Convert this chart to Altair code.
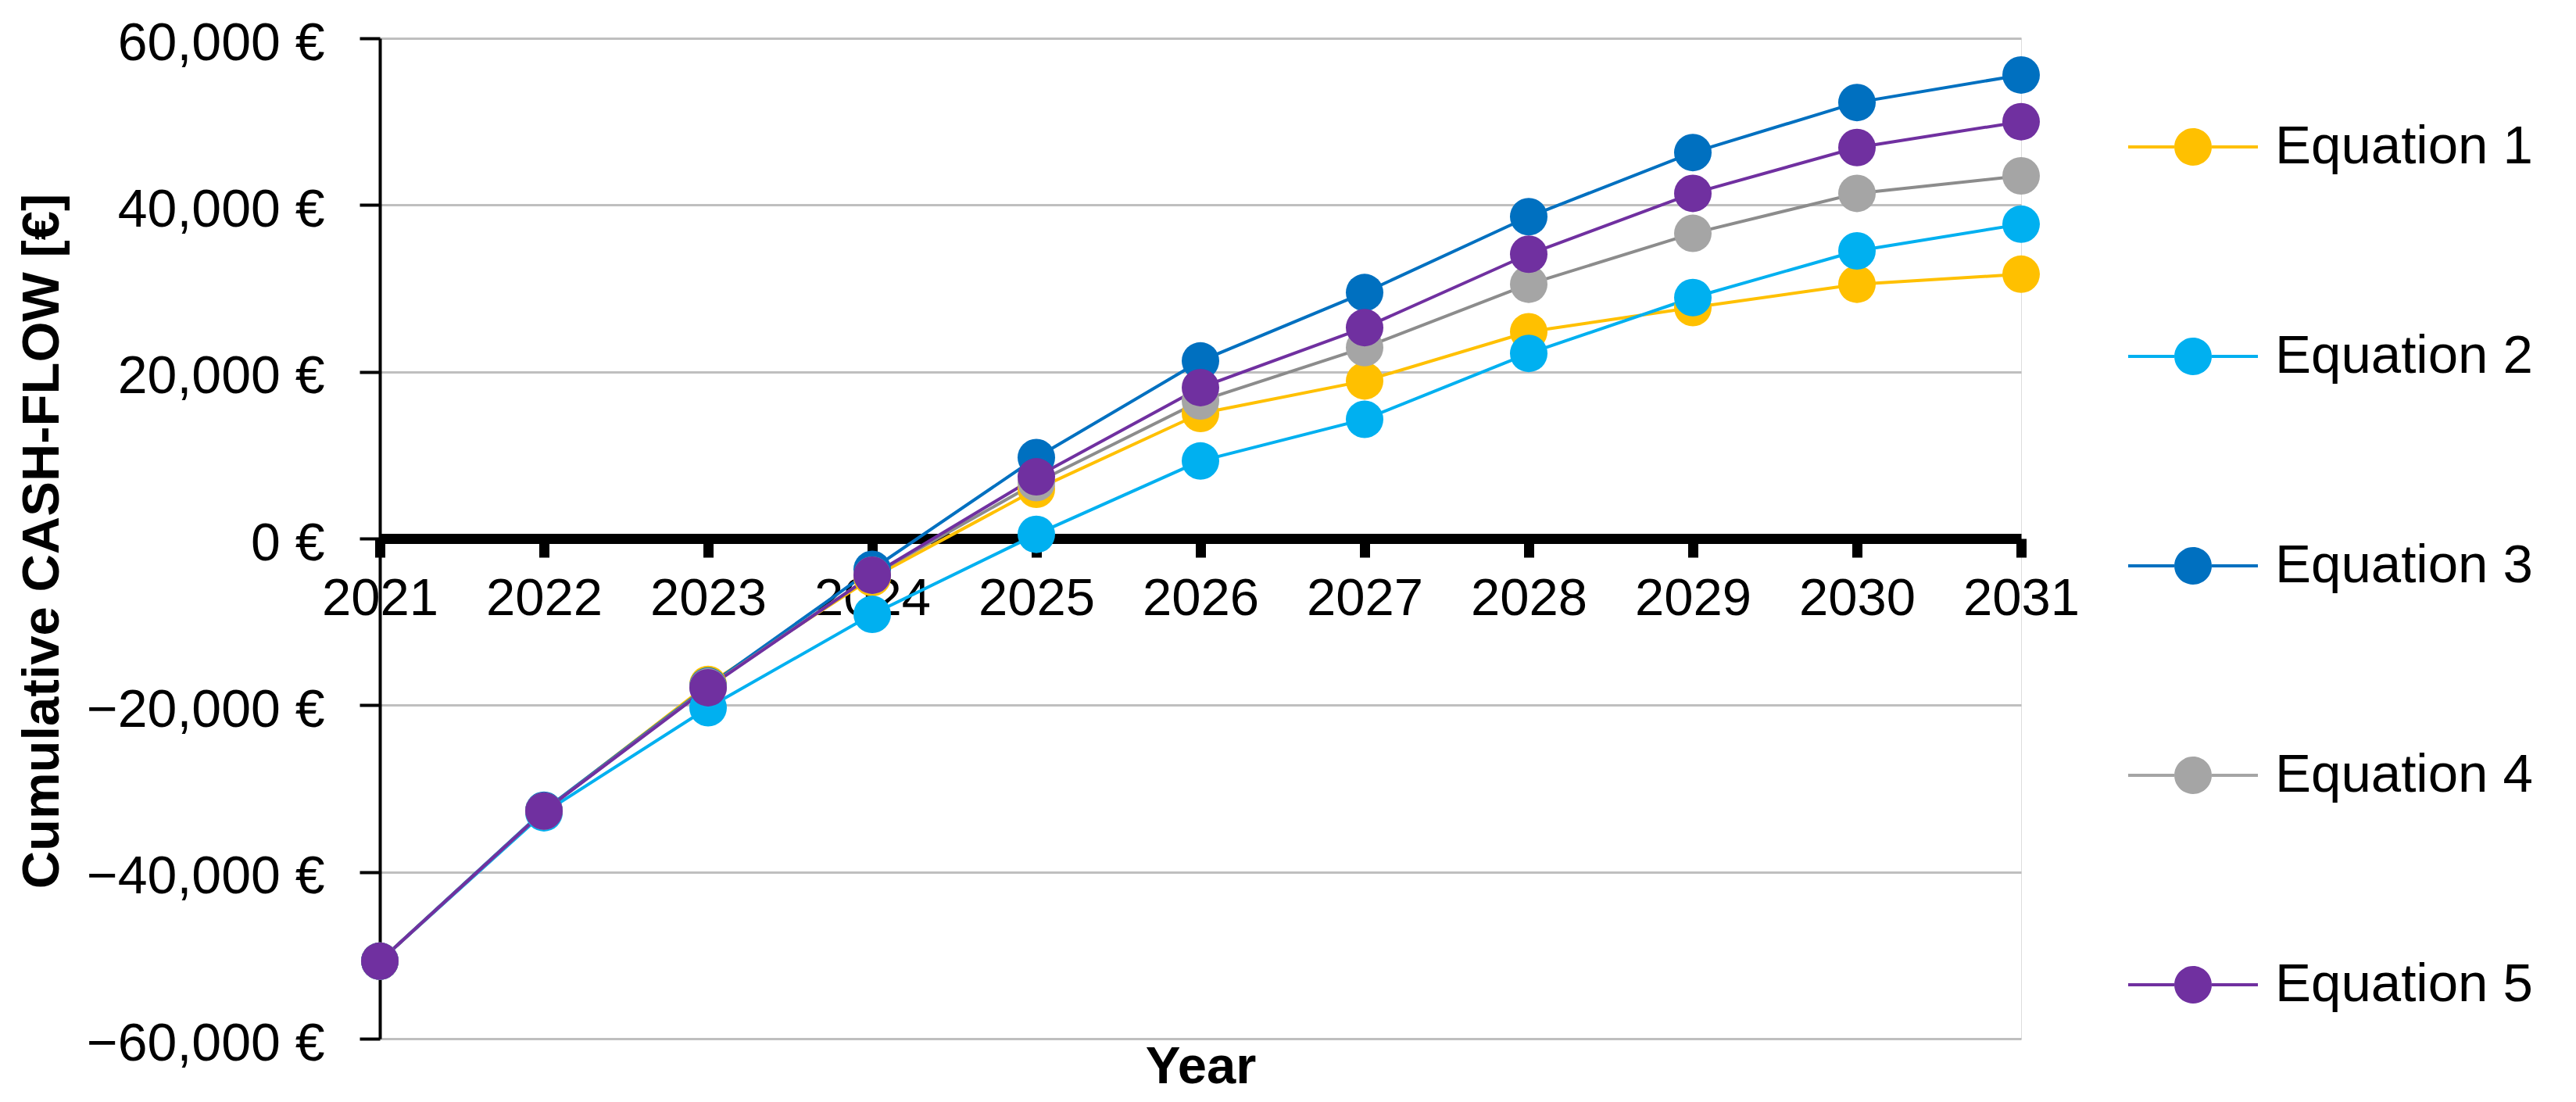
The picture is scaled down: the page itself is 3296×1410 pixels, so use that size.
import altair as alt
import pandas as pd

years = list(range(2021, 2032))
series_names = ["Equation 1", "Equation 2", "Equation 3", "Equation 4", "Equation 5"]
eq1 = [-50700, -32700, -17500, -4700, 5900, 15000, 18900, 24800, 27700, 30500, 31700]
eq2 = [-50700, -32900, -20300, -9100, 500, 9300, 14300, 22200, 28900, 34500, 37700]
eq3 = [-50700, -32600, -17700, -3700, 9700, 21300, 29500, 38600, 46300, 52300, 55600]
eq4 = [-50700, -32700, -17800, -4400, 6700, 16500, 22900, 30500, 36600, 41400, 43500]
eq5 = [-50700, -32700, -17900, -4400, 7400, 18100, 25300, 34100, 41400, 46900, 50000]
marker_colors = ["#FFC000", "#00B0F0", "#0070C0", "#A5A5A5", "#7030A0"]
line_colors = ["#FFC000", "#00B0F0", "#0070C0", "#8C8C8C", "#7030A0"]
y_ticks = [-60000, -40000, -20000, 0, 20000, 40000, 60000]

rows = []
for name, vals in zip(series_names, [eq1, eq2, eq3, eq4, eq5]):
    for yr, v in zip(years, vals):
        rows.append({"year": yr, "value": v, "series": name, "order": series_names.index(name)})
df = pd.DataFrame(rows)

FONT = "Liberation Sans"
W, H = 2100, 1280

# legend glyph: short line with a filled circle in its middle (unit box -1..1)
legend_path = ("M0,-1V1"
               "M-1,-0.024H-0.289V0.024H-1Z"
               "M0.289,-0.024H1V0.024H0.289Z"
               "M-0.289,0A0.289,0.289,0,1,0,0.289,0A0.289,0.289,0,1,0,-0.289,0Z")

legend_cfg = dict(
    title=None, orient="none", legendX=2237, legendY=56,
    symbolType=legend_path, symbolSize=27556, symbolStrokeWidth=0, symbolOpacity=1,
    labelFont=FONT, labelFontSize=69, labelColor="black",
    labelOffset=22, labelLimit=600, rowPadding=102, padding=0,
)

x_enc = alt.X(
    "year:Q",
    scale=alt.Scale(domain=[2021, 2031], nice=False, zero=False),
    axis=alt.Axis(
        values=years, format="d", grid=False,
        title="Year", titleFont=FONT, titleFontSize=67, titleFontWeight="bold",
        titleColor="black", titleX=W / 2, titleY=643, titleAlign="center",
        titleBaseline="top", titleAngle=0,
        offset=-H / 2,
        domainColor="black", domainWidth=13,
        tickColor="black", tickWidth=13, tickSize=24,
        labelFont=FONT, labelFontSize=67, labelColor="black",
        labelPadding=20, labelFlush=False, labelOverlap=False,
    ),
)
y_enc = alt.Y(
    "value:Q",
    scale=alt.Scale(domain=[-60000, 60000], nice=False),
    axis=alt.Axis(
        values=y_ticks,
        labelExpr="format(datum.value, ',') + ' €'",
        title="Cumulative CASH-FLOW [€]",
        titleFont=FONT, titleFontSize=67, titleFontWeight="bold", titleColor="black",
        titleAngle=270, titleBaseline="alphabetic", titleAlign="center",
        titleX=-412, titleY=643,
        grid=True, gridColor="#BFBFBF", gridWidth=3,
        domainColor="black", domainWidth=4,
        tickColor="black", tickWidth=4, tickSize=26,
        labelFont=FONT, labelFontSize=68, labelColor="black",
        labelPadding=45, labelOffset=7, labelLimit=500, labelFlush=False,
    ),
)

lines = alt.Chart(df).mark_line(strokeWidth=4).encode(
    x=x_enc,
    y=y_enc,
    stroke=alt.Stroke(
        "series:N",
        scale=alt.Scale(domain=series_names, range=line_colors),
        legend=alt.Legend(**legend_cfg),
    ),
    detail="series:N",
)

points = alt.Chart(df).mark_point(filled=True, size=2304, opacity=1, shape="circle").encode(
    x=x_enc,
    y=y_enc,
    color=alt.Color(
        "series:N",
        scale=alt.Scale(domain=series_names, range=marker_colors),
        legend=alt.Legend(**legend_cfg),
    ),
    order="order:Q",
)

chart = alt.layer(lines, points).properties(
    width=W,
    height=H,
    autosize=alt.AutoSizeParams(type="none"),
    padding={"left": 478, "top": 41, "right": 700, "bottom": 80},
).configure_view(stroke=None).configure(background="white")

chart.save("out.html", embed_options={"renderer": "svg", "actions": False})
